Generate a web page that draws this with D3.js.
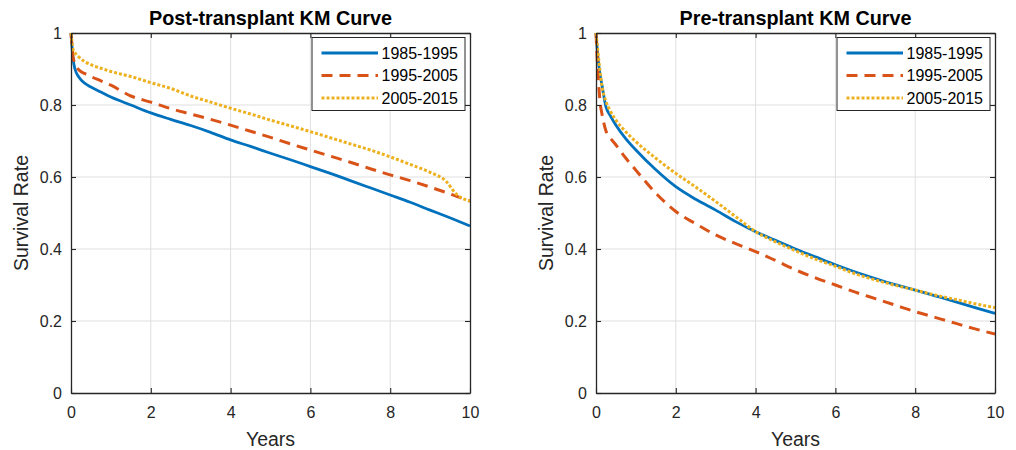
<!DOCTYPE html>
<html>
<head>
<meta charset="utf-8">
<script src="https://cdn.jsdelivr.net/npm/d3@7"></script>
<style>
  html, body { margin: 0; padding: 0; background: #fff; }
  svg { display: block; font-family: "Liberation Sans", Arial, Helvetica, sans-serif; }
</style>
</head>
<body>
<svg id="chart" width="1016" height="450"></svg>
<script>
// ---------------- DATA ----------------
const seriesNames = ["1985-1995", "1995-2005", "2005-2015"];
const xTickValues = [0, 2, 4, 6, 8, 10];
const yTickValues = [0, 0.2, 0.4, 0.6, 0.8, 1];

// Post-transplant panel
const postYears = [0, 0.02, 0.05, 0.1, 0.2, 0.35, 0.5, 0.75, 1, 1.5, 2, 2.5, 3, 3.5, 4, 4.5, 5, 5.5, 6, 6.5, 7, 7.5, 8, 8.5, 9, 9.4, 9.65, 10];
const post1985 = [1, 0.97, 0.93, 0.90, 0.877, 0.86, 0.85, 0.836, 0.822, 0.80, 0.778, 0.76, 0.743, 0.724, 0.703, 0.685, 0.666, 0.648, 0.629, 0.61, 0.59, 0.57, 0.55, 0.53, 0.508, 0.491, 0.48, 0.464];
const post1995 = [1, 0.97, 0.935, 0.915, 0.897, 0.887, 0.879, 0.867, 0.855, 0.825, 0.808, 0.79, 0.775, 0.76, 0.744, 0.727, 0.71, 0.692, 0.675, 0.658, 0.641, 0.623, 0.606, 0.59, 0.572, 0.557, 0.547, 0.533];
const post2005 = [1, 0.98, 0.955, 0.945, 0.933, 0.92, 0.912, 0.902, 0.893, 0.879, 0.862, 0.846, 0.825, 0.808, 0.791, 0.775, 0.758, 0.742, 0.726, 0.709, 0.692, 0.675, 0.656, 0.635, 0.613, 0.588, 0.553, 0.533];

// Pre-transplant panel
const preYears = [0, 0.02, 0.05, 0.1, 0.15, 0.25, 0.35, 0.5, 0.75, 1, 1.5, 2, 2.5, 3, 3.5, 4, 4.5, 5, 5.5, 6, 6.5, 7, 7.5, 8, 8.5, 9, 9.5, 10];
const pre1985 = [1, 0.97, 0.93, 0.885, 0.855, 0.795, 0.772, 0.744, 0.706, 0.675, 0.62, 0.573, 0.538, 0.508, 0.476, 0.448, 0.424, 0.40, 0.378, 0.356, 0.336, 0.318, 0.301, 0.286, 0.27, 0.254, 0.237, 0.221];
const pre1995 = [1, 0.95, 0.89, 0.81, 0.775, 0.728, 0.71, 0.689, 0.652, 0.619, 0.555, 0.504, 0.47, 0.439, 0.415, 0.393, 0.368, 0.342, 0.32, 0.30, 0.28, 0.262, 0.244, 0.226, 0.21, 0.194, 0.178, 0.164];
const pre2005 = [1, 0.98, 0.945, 0.895, 0.852, 0.81, 0.785, 0.758, 0.725, 0.698, 0.652, 0.61, 0.572, 0.532, 0.49, 0.448, 0.42, 0.395, 0.372, 0.352, 0.331, 0.314, 0.299, 0.286, 0.272, 0.26, 0.248, 0.237];

// ---------------- STYLE ----------------
const colors = ["#0072BD", "#D95319", "#EDB120"];
const dashes = [null, "11,7", "3,2"];
const widths = [2.8, 3, 3];

const panels = [
  { title: "Post-transplant KM Curve", left: 71, right: 470, years: postYears, values: [post1985, post1995, post2005] },
  { title: "Pre-transplant KM Curve", left: 596, right: 995, years: preYears, values: [pre1985, pre1995, pre2005] }
];
const plotTop = 33, plotBottom = 393;
const axisColor = "#262626";

const svg = d3.select("#chart");

panels.forEach(p => {
  const x = d3.scaleLinear().domain([0, 10]).range([p.left, p.right]);
  const y = d3.scaleLinear().domain([0, 1]).range([plotBottom, plotTop]);
  const g = svg.append("g");

  // grid
  g.append("g").selectAll("line").data(xTickValues.filter(v => v > 0 && v < 10)).join("line")
    .attr("x1", d => x(d)).attr("x2", d => x(d)).attr("y1", plotTop).attr("y2", plotBottom)
    .attr("stroke", "#dfdfdf").attr("stroke-width", 1);
  g.append("g").selectAll("line").data(yTickValues.filter(v => v > 0 && v < 1)).join("line")
    .attr("x1", p.left).attr("x2", p.right).attr("y1", d => y(d)).attr("y2", d => y(d))
    .attr("stroke", "#dfdfdf").attr("stroke-width", 1);

  // lines
  const line = d3.line().x(d => x(d[0])).y(d => y(d[1])).curve(d3.curveMonotoneX);
  p.values.forEach((vals, i) => {
    const pts = p.years.map((yr, k) => [yr, vals[k]]);
    g.append("path").datum(pts)
      .attr("d", line)
      .attr("fill", "none")
      .attr("stroke", colors[i])
      .attr("stroke-width", widths[i])
      .attr("stroke-dasharray", dashes[i])
      .attr("stroke-linejoin", "round");
  });

  // axes
  const styleAxis = sel => {
    sel.selectAll("path.domain").attr("stroke", axisColor).attr("stroke-width", 1.3);
    sel.selectAll(".tick line").attr("stroke", axisColor).attr("stroke-width", 1.1);
    sel.selectAll(".tick text").attr("fill", axisColor).style("font-size", "16px")
      .style("font-family", "'Liberation Sans', Arial, Helvetica, sans-serif");
  };
  g.append("g").attr("transform", `translate(0,${plotBottom})`)
    .call(d3.axisBottom(x).tickValues(xTickValues).tickFormat(d3.format("d")).tickSizeInner(-5).tickSizeOuter(0).tickPadding(13.5))
    .call(styleAxis);
  g.append("g").attr("transform", `translate(0,${plotTop})`)
    .call(d3.axisTop(x).tickValues(xTickValues).tickFormat("").tickSizeInner(-5).tickSizeOuter(0))
    .call(styleAxis);
  g.append("g").attr("transform", `translate(${p.left},0)`)
    .call(d3.axisLeft(y).tickValues(yTickValues).tickFormat(d => d === 0 || d === 1 ? d3.format("d")(d) : d3.format(".1f")(d)).tickSizeInner(-5).tickSizeOuter(0).tickPadding(9))
    .call(styleAxis);
  g.append("g").attr("transform", `translate(${p.right},0)`)
    .call(d3.axisRight(y).tickValues(yTickValues).tickFormat("").tickSizeInner(-5).tickSizeOuter(0))
    .call(styleAxis);

  // title
  g.append("text").attr("x", (p.left + p.right) / 2).attr("y", 25)
    .attr("text-anchor", "middle").attr("font-weight", "bold").attr("font-size", 19.8)
    .attr("fill", "#000").text(p.title);

  // axis labels
  g.append("text").attr("x", (p.left + p.right) / 2).attr("y", 446)
    .attr("text-anchor", "middle").attr("font-size", 19.5).attr("fill", axisColor).text("Years");
  g.append("text").attr("transform", `translate(${p.left - 43},${(plotTop + plotBottom) / 2}) rotate(-90)`)
    .attr("text-anchor", "middle").attr("font-size", 19.5).attr("fill", axisColor).text("Survival Rate");

  // legend
  const lw = 153, lh = 73;
  const lx = p.right - 5 - lw, ly = 37.5;
  const lg = g.append("g");
  lg.append("rect").attr("x", lx).attr("y", ly).attr("width", lw).attr("height", lh)
    .attr("fill", "#fff").attr("stroke", axisColor).attr("stroke-width", 1);
  seriesNames.forEach((name, i) => {
    const cy = ly + 15.5 + i * 22.5;
    lg.append("line").attr("x1", lx + 9.5).attr("x2", lx + 66).attr("y1", cy).attr("y2", cy)
      .attr("stroke", colors[i]).attr("stroke-width", widths[i]).attr("stroke-dasharray", dashes[i]);
    lg.append("text").attr("x", lx + 69.5).attr("y", cy).attr("dominant-baseline", "central")
      .attr("font-size", 16).attr("fill", "#000").text(name);
  });
});
</script>
</body>
</html>
